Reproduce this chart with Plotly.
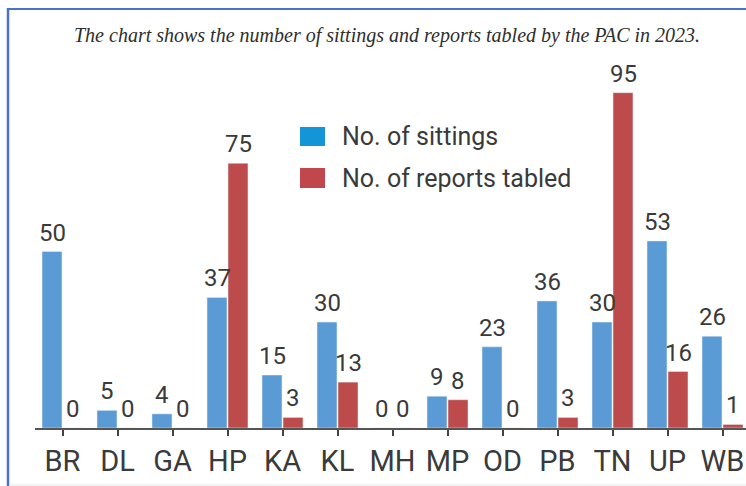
import plotly.graph_objects as go

states = ["BR", "DL", "GA", "HP", "KA", "KL", "MH", "MP", "OD", "PB", "TN", "UP", "WB"]
sittings = [50, 5, 4, 37, 15, 30, 0, 9, 23, 36, 30, 53, 26]
reports = [0, 0, 0, 75, 3, 13, 0, 8, 0, 3, 95, 16, 1]

title_text = "The chart shows the number of sittings and reports tabled by the PAC in 2023."
legend_names = ["No. of sittings", "No. of reports tabled"]

W, H = 746, 486
ML, MR, MT, MB = 35, 0, 75, 58
PW, PH = W - ML - MR, H - MT - MB

def px(x):
    return (x - ML) / PW

def py(y):
    return (H - MB - y) / PH

BLUE = "#5b9bd5"
RED = "#be4b4b"
LBLUE = "#1495d8"
LRED = "#c0474b"
TXT = "#3a3a3a"
FONT = "Roboto, sans-serif"

fig = go.Figure()
fig.add_trace(go.Bar(x=states, y=sittings, marker_color=BLUE, name=legend_names[0], showlegend=False))
fig.add_trace(go.Bar(x=states, y=reports, marker_color=RED, name=legend_names[1], showlegend=False))

annotations = []
for s, v in zip(states, sittings):
    annotations.append(dict(x=s, y=v, xref="x", yref="y", text=str(v), showarrow=False,
                            yanchor="bottom", yshift=3, xshift=-10.5,
                            font=dict(size=24, color=TXT, family=FONT)))
for s, v in zip(states, reports):
    annotations.append(dict(x=s, y=v, xref="x", yref="y", text=str(v), showarrow=False,
                            yanchor="bottom", yshift=3, xshift=10.5,
                            font=dict(size=24, color=TXT, family=FONT)))

annotations.append(dict(x=px(387), y=py(36), xref="paper", yref="paper", text="<i>" + title_text + "</i>",
                        showarrow=False, xanchor="center", yanchor="middle",
                        font=dict(size=20, color="#2e2e2e", family="Liberation Serif, serif")))
annotations.append(dict(x=px(340), y=py(136), xref="paper", yref="paper", text=legend_names[0],
                        showarrow=False, xanchor="left", yanchor="middle",
                        font=dict(size=25, color=TXT, family=FONT)))
annotations.append(dict(x=px(340), y=py(178), xref="paper", yref="paper", text=legend_names[1],
                        showarrow=False, xanchor="left", yanchor="middle",
                        font=dict(size=25, color=TXT, family=FONT)))

shapes = [
    dict(type="rect", xref="paper", yref="paper", x0=px(300), x1=px(325), y0=py(127), y1=py(146),
         fillcolor=LBLUE, line=dict(width=0)),
    dict(type="rect", xref="paper", yref="paper", x0=px(300), x1=px(325), y0=py(168), y1=py(188),
         fillcolor=LRED, line=dict(width=0)),
    dict(type="line", xref="paper", yref="paper", x0=px(7), x1=px(746), y0=py(9), y1=py(9),
         line=dict(color="#4a72c8", width=2)),
    dict(type="line", xref="paper", yref="paper", x0=px(8), x1=px(8), y0=py(8), y1=py(486),
         line=dict(color="#4a72c8", width=2.5)),
    dict(type="line", xref="paper", yref="paper", x0=px(9), x1=px(746), y0=py(485), y1=py(485),
         line=dict(color="#e6e6e6", width=1)),
]

fig.update_layout(
    width=W, height=H,
    margin=dict(l=ML, r=MR, t=MT, b=MB),
    paper_bgcolor="white", plot_bgcolor="white",
    barmode="group", bargap=0.236, bargroupgap=0.05,
    showlegend=False,
    annotations=annotations, shapes=shapes,
    xaxis=dict(range=[-0.5, -0.5 + PW / 55.0], showline=True, linecolor="#555555", linewidth=1.5,
               ticks="outside", ticklen=6, tickwidth=1.5, tickcolor="#444444",
               tickfont=dict(size=29, color=TXT, family=FONT), showgrid=False, zeroline=False,
               fixedrange=True),
    yaxis=dict(range=[0, 100], visible=False, fixedrange=True),
)

fig.write_html("out.html", config={"displayModeBar": False},
               post_script="document.body.style.margin='0px';document.body.style.overflow='hidden';")
